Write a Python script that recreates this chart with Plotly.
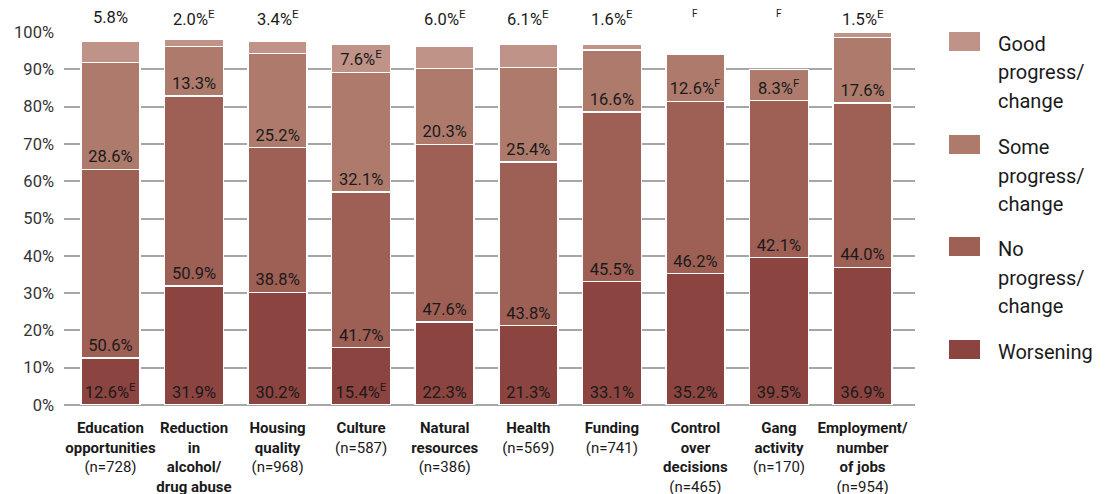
import plotly.graph_objects as go

# Categories (bold name, optional sample size)
category_names = [
    "Education<br>opportunities",
    "Reduction<br>in<br>alcohol/<br>drug abuse",
    "Housing<br>quality",
    "Culture",
    "Natural<br>resources",
    "Health",
    "Funding",
    "Control<br>over<br>decisions",
    "Gang<br>activity",
    "Employment/<br>number<br>of jobs",
]
sample_sizes = [728, None, 968, 587, 386, 569, 741, 465, 170, 954]

# Percentages per response (bottom to top of each stack)
worsening = [12.6, 31.9, 30.2, 15.4, 22.3, 21.3, 33.1, 35.2, 39.5, 36.9]
no_progress = [50.6, 50.9, 38.8, 41.7, 47.6, 43.8, 45.5, 46.2, 42.1, 44.0]
some_progress = [28.6, 13.3, 25.2, 32.1, 20.3, 25.4, 16.6, 12.6, 8.3, 17.6]
good_progress = [5.8, 2.0, 3.4, 7.6, 6.0, 6.1, 1.6, None, None, 1.5]

# Data quality flags (E = use with caution, F = too unreliable to publish)
worsening_flag = ["E", "", "", "E", "", "", "", "", "", ""]
no_progress_flag = ["", "", "", "", "", "", "", "", "", ""]
some_progress_flag = ["", "", "", "", "", "", "", "F", "F", ""]
good_progress_flag = ["", "E", "E", "E", "E", "E", "E", "F", "F", "E"]

series_names = ["Worsening", "No progress/change", "Some progress/change", "Good progress/change"]
legend_lines = [["Worsening"], ["No", "progress/", "change"], ["Some", "progress/", "change"], ["Good", "progress/", "change"]]
colors = ["#8C4440", "#9E5F55", "#AD7A6C", "#BF9387"]

FONT = "Roboto"
TEXT_COLOR = "#1a1a1a"
VALUE_SIZE = 16.5


def fmt(v, flag):
    if v is None:
        return None
    s = f"{v:.1f}%"
    if flag:
        s += f"<sup>{flag}</sup>"
    return s


x = list(range(len(category_names)))
ticktext = [
    f"<b>{name}</b>" + (f"<br>(n={n})" if n is not None else "")
    for name, n in zip(category_names, sample_sizes)
]

# Good-progress values small enough are labelled above the bar instead
INSIDE_MIN = 7.0
good_inside_text = [
    fmt(v, f) if (v is not None and v >= INSIDE_MIN) else None
    for v, f in zip(good_progress, good_progress_flag)
]

series = [
    (worsening, [fmt(v, f) for v, f in zip(worsening, worsening_flag)]),
    (no_progress, [fmt(v, f) for v, f in zip(no_progress, no_progress_flag)]),
    (some_progress, [fmt(v, f) for v, f in zip(some_progress, some_progress_flag)]),
    (good_progress, good_inside_text),
]

fig = go.Figure()
for (vals, texts), name, color in zip(series, series_names, colors):
    fig.add_trace(go.Bar(
        x=x, y=vals, name=name, text=texts,
        textposition="inside", insidetextanchor="start", textangle=0,
        textfont=dict(family=FONT, size=VALUE_SIZE, color=TEXT_COLOR),
        marker=dict(color=color, line=dict(color="white", width=1.5)),
        width=0.706, showlegend=False, hoverinfo="skip",
    ))

# Pixel helpers for paper-positioned decorations
PLOT_L, PLOT_W, PLOT_B, PLOT_H = 64, 851, 405, 373


def px_x(px):
    return (px - PLOT_L) / PLOT_W


def px_y(py):
    return (PLOT_B - py) / PLOT_H


annotations = []
# Labels above the stacks
for i, (v, f) in enumerate(zip(good_progress, good_progress_flag)):
    if v is None:
        annotations.append(dict(x=i, y=px_y(14), xref="x", yref="paper", text=f, showarrow=False,
                                yanchor="middle", font=dict(family=FONT, size=10, color=TEXT_COLOR)))
    elif v < INSIDE_MIN:
        annotations.append(dict(x=i, y=px_y(18), xref="x", yref="paper", text=fmt(v, f), showarrow=False,
                                yanchor="middle", font=dict(family=FONT, size=VALUE_SIZE, color=TEXT_COLOR)))

# Custom legend on the right (top entry first)
shapes = []
square_tops = [32, 135, 237, 340]
for k, top in enumerate(square_tops):
    idx = len(series_names) - 1 - k
    shapes.append(dict(type="rect", xref="paper", yref="paper",
                       x0=px_x(949), x1=px_x(980), y0=px_y(top + 19), y1=px_y(top),
                       fillcolor=colors[idx], line=dict(width=0)))
    for j, line in enumerate(legend_lines[idx]):
        annotations.append(dict(x=px_x(996), y=px_y(top + 12 + 28.5 * j), xref="paper", yref="paper",
                                text=line, showarrow=False, xanchor="left", yanchor="middle",
                                font=dict(family=FONT, size=20, color=TEXT_COLOR)))

fig.update_layout(
    barmode="stack",
    width=1107, height=494,
    margin=dict(l=64, r=192, t=32, b=89, autoexpand=False),
    paper_bgcolor="white", plot_bgcolor="white",
    font=dict(family=FONT, color=TEXT_COLOR),
    uniformtext=dict(minsize=VALUE_SIZE, mode="show"),
    annotations=annotations, shapes=shapes,
    xaxis=dict(range=[-0.556, 9.628], tickmode="array", tickvals=x, ticktext=ticktext,
               tickfont=dict(family=FONT, size=15, color=TEXT_COLOR), tickangle=0,
               automargin=False,
               showgrid=False, zeroline=False, showline=False, ticks="",
               ticklabelstandoff=12),
    yaxis=dict(range=[0, 100], tickmode="array", tickvals=list(range(0, 101, 10)),
               ticktext=[f"{t}%" for t in range(0, 101, 10)],
               tickfont=dict(family=FONT, size=16.5, color="#333333"),
               automargin=False,
               showgrid=True, gridcolor="#A6A6A6", gridwidth=2,
               zeroline=True, zerolinecolor="#A6A6A6", zerolinewidth=2,
               showline=False, ticks="", ticklabelstandoff=9),
)

fig.write_html("out.html")
